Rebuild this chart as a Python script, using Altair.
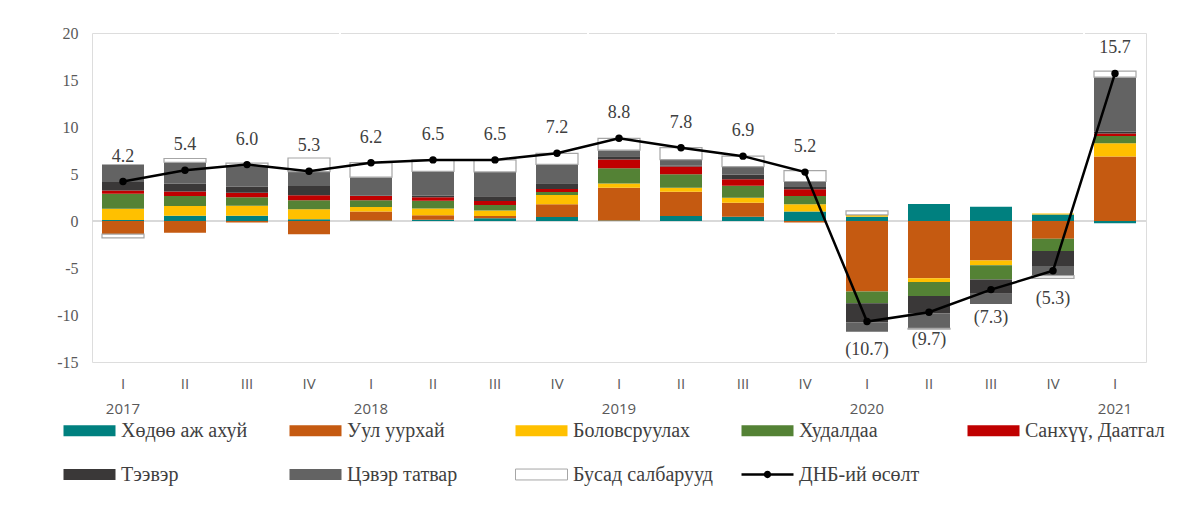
import altair as alt
import pandas as pd

# ---------------- data ----------------
quarters = ["I", "II", "III", "IV"] * 4 + ["I"]
years = [2017] * 4 + [2018] * 4 + [2019] * 4 + [2020] * 4 + [2021]
periods = [f"{y} {q}" for y, q in zip(years, quarters)]

sectors = ["Хөдөө аж ахуй", "Уул уурхай", "Боловсруулах", "Худалдаа",
           "Санхүү, Даатгал", "Тээвэр", "Цэвэр татвар", "Бусад салбарууд"]
growth_name = "ДНБ-ий өсөлт"
colors = ["#00807f", "#c55a11", "#ffc000", "#548235",
          "#c00000", "#3a3838", "#636363", "#ffffff"]

agriculture   = [0.10, 0.55, 0.56, 0.18, 0.05, 0.14, 0.28, 0.43, 0.05, 0.53, 0.46, 1.00, 0.45, 1.80, 1.52, 0.70, -0.25]
mining        = [-1.40, -1.25, -0.15, -1.40, 0.95, 0.46, 0.25, 1.35, 3.48, 2.59, 1.49, -0.15, -7.50, -6.10, -4.20, -1.90, 6.85]
manufacturing = [1.20, 1.05, 1.07, 1.06, 0.49, 0.74, 0.60, 0.99, 0.46, 0.43, 0.53, 0.78, 0.20, -0.38, -0.50, 0.10, 1.42]
trade         = [1.60, 1.05, 0.89, 0.96, 0.71, 0.82, 0.57, 0.32, 1.63, 1.42, 1.28, 0.89, -1.25, -1.49, -1.52, -1.30, 0.78]
finance       = [0.35, 0.50, 0.49, 0.53, 0.46, 0.36, 0.43, 0.32, 0.92, 0.82, 0.67, 0.71, 0.00, 0.00, 0.00, 0.00, 0.25]
transport     = [0.90, 0.80, 0.64, 0.99, 0.05, 0.18, 0.50, 0.60, 0.35, 0.10, 0.53, 0.25, -2.06, -1.88, -1.52, -1.60, 0.20]
net_tax       = [1.85, 2.30, 2.24, 1.53, 1.95, 2.58, 2.59, 2.02, 0.64, 0.64, 0.82, 0.57, -0.96, -1.56, -1.08, -1.02, 5.80]
other         = [-0.40, 0.40, 0.26, 1.45, 1.54, 1.22, 1.28, 1.17, 1.27, 1.27, 1.12, 1.15, 0.42, -0.09, 0.00, -0.28, 0.65]
growth        = [4.2, 5.4, 6.0, 5.3, 6.2, 6.5, 6.5, 7.2, 8.8, 7.8, 6.9, 5.2, -10.7, -9.7, -7.3, -5.3, 15.7]

series = [agriculture, mining, manufacturing, trade, finance, transport, net_tax, other]

rows = []
for si, (name, vals) in enumerate(zip(sectors, series)):
    for p, v in zip(periods, vals):
        if v != 0:
            rows.append({"period": p, "sector": name, "idx": si, "value": v})
bars_df = pd.DataFrame(rows)

growth_df = pd.DataFrame({
    "period": periods,
    "quarter": quarters,
    "year": years,
    "growth": growth,
    "label": [f"{g:.1f}" if g >= 0 else f"({abs(g):.1f})" for g in growth],
})

# ---------------- encodings ----------------
x_enc = alt.X(
    "period:N", sort=periods, title=None,
    scale=alt.Scale(paddingInner=0, paddingOuter=0),
    axis=alt.Axis(
        labelExpr="split(datum.value, ' ')[1] === 'I' ? ['I', split(datum.value, ' ')[0]] : split(datum.value, ' ')[1]",
        labelAngle=0, ticks=False, domain=False, grid=False,
        labelFont="Open Sans", labelFontSize=15, labelColor="#595959",
        labelPadding=14, labelLineHeight=25,
    ),
)

y_scale = alt.Scale(domain=[-15, 20], nice=False, zero=True)
y_axis = alt.Axis(
    values=list(range(-15, 21, 5)), title=None, grid=False, ticks=False, domain=False,
    labelFont="Liberation Serif", labelFontSize=16, labelColor="#595959",
    labelPadding=14, labelExpr="toString(datum.value)",
)

rect_path = "M-1,-0.21H1V0.21H-1Z"
line_path = "M-1,-0.05H1V0.05H-1Z M-0.14,0A0.14,0.14,0,1,1,0.14,0A0.14,0.14,0,1,1,-0.14,0Z"

legend = alt.Legend(
    title=None, orient="none", legendX=-29, legendY=371, direction="horizontal",
    columns=5, gridAlign="all", columnPadding=25, rowPadding=7,
    symbolType={"expr": "datum.value === '" + growth_name + "' ? '" + line_path + "' : '" + rect_path + "'"},
    symbolSize=2704,
    symbolStrokeColor={"expr": "datum.value === 'Бусад салбарууд' ? '#a6a6a6' : 'transparent'"},
    symbolStrokeWidth=1,
    labelFont="Liberation Serif", labelFontSize=20, labelColor="#404040",
    labelOffset=5, labelLimit=400, padding=0,
)

separators = alt.Chart(growth_df).mark_rule(color="white", strokeWidth=2, xOffset=-31).encode(
    x=x_enc
).transform_filter("datum.quarter === 'I' && datum.year > 2017")

zero_line = alt.Chart(growth_df).mark_rule(color="#d9d9d9", strokeWidth=2).encode(
    y=alt.datum(0, scale=y_scale, axis=y_axis)
)

bars = alt.Chart(bars_df).mark_bar(size=42, strokeWidth=1.2).encode(
    x=x_enc,
    y=alt.Y("value:Q", stack="zero", scale=y_scale, axis=y_axis),
    fill=alt.Fill("sector:N", scale=alt.Scale(domain=sectors + [growth_name], range=colors + ["#000000"]),
                  legend=legend),
    stroke=alt.when(alt.datum.sector == "Бусад салбарууд").then(alt.value("#a6a6a6")).otherwise(alt.value("transparent")),
    order=alt.Order("idx:Q", sort="ascending"),
)

line = alt.Chart(growth_df).mark_line(color="black", strokeWidth=2.5).encode(
    x=x_enc, y=alt.Y("growth:Q", scale=y_scale, axis=y_axis)
)
points = alt.Chart(growth_df).mark_point(filled=True, color="black", size=55, opacity=1).encode(
    x=x_enc, y=alt.Y("growth:Q", scale=y_scale, axis=y_axis)
)

text_style = dict(font="Liberation Serif", fontSize=18, color="#404040", baseline="middle", align="center")
pos_labels = alt.Chart(growth_df).mark_text(dy=-25, **text_style).encode(
    x=x_enc, y=alt.Y("growth:Q", scale=y_scale, axis=y_axis), text="label:N"
).transform_filter("datum.growth >= 0")
neg_labels = alt.Chart(growth_df).mark_text(dy=28, **text_style).encode(
    x=x_enc, y=alt.Y("growth:Q", scale=y_scale, axis=y_axis), text="label:N"
).transform_filter("datum.growth < 0")

chart = alt.layer(separators, zero_line, bars, line, points, pos_labels, neg_labels).properties(
    width=1054, height=329,
    autosize=alt.AutoSizeParams(type="none"),
    padding={"left": 84, "top": 25, "right": 28, "bottom": 136},
).configure_view(fill="#f2f2f2", strokeWidth=0).configure(background="white")

chart.save("out.html", embed_options={"renderer": "svg", "actions": False})
